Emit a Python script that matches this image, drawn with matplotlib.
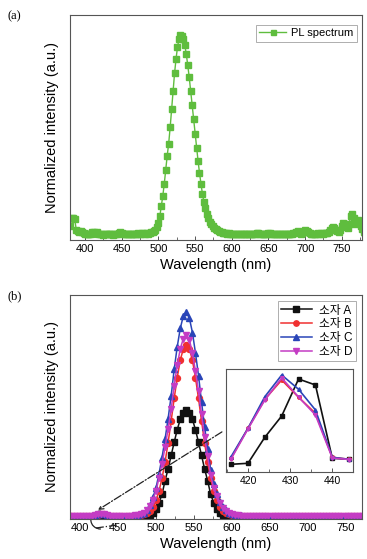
import numpy as np
import matplotlib
matplotlib.use("Agg")
import matplotlib.pyplot as plt
from matplotlib.patches import Arc
from matplotlib.ticker import MultipleLocator

plt.rcParams['font.family'] = ['Liberation Sans', 'Noto Sans CJK KR', 'DejaVu Sans']

# ---------------- (a) PL spectrum ----------------
wl_pl = np.arange(380, 784, 2)
pl_spectrum = [
    0.05, 0.09, 0.09, 0.085, 0.03, 0.025, 0.02, 0.025, 0.022, 0.015,
    0.012, 0.01, 0.012, 0.008, 0.01, 0.018, 0.02, 0.015, 0.018, 0.012,
    0.01, 0.008, 0.006, 0.01, 0.012, 0.009, 0.008, 0.01, 0.008, 0.007,
    0.009, 0.01, 0.012, 0.015, 0.02, 0.017, 0.012, 0.008, 0.009, 0.01,
    0.008, 0.01, 0.009, 0.012, 0.01, 0.012, 0.015, 0.012, 0.01, 0.013,
    0.015, 0.012, 0.014, 0.012, 0.015, 0.018, 0.02, 0.025, 0.03, 0.045,
    0.065, 0.10, 0.15, 0.20, 0.26, 0.33, 0.40, 0.46, 0.54, 0.63,
    0.72, 0.81, 0.88, 0.94, 0.98, 1.0, 0.995, 0.98, 0.95, 0.905,
    0.85, 0.79, 0.72, 0.65, 0.58, 0.51, 0.44, 0.375, 0.315, 0.26,
    0.21, 0.17, 0.14, 0.11, 0.09, 0.07, 0.06, 0.05, 0.04, 0.033,
    0.028, 0.024, 0.02, 0.018, 0.016, 0.015, 0.014, 0.012, 0.013, 0.011,
    0.012, 0.01, 0.011, 0.009, 0.01, 0.012, 0.01, 0.008, 0.01, 0.009,
    0.008, 0.01, 0.009, 0.008, 0.01, 0.011, 0.009, 0.015, 0.013, 0.01,
    0.009, 0.008, 0.01, 0.009, 0.011, 0.013, 0.014, 0.01, 0.009, 0.008,
    0.009, 0.01, 0.008, 0.009, 0.011, 0.01, 0.012, 0.009, 0.01, 0.011,
    0.012, 0.01, 0.013, 0.015, 0.02, 0.025, 0.018, 0.012, 0.015, 0.022,
    0.028, 0.025, 0.02, 0.015, 0.012, 0.01, 0.011, 0.012, 0.01, 0.013,
    0.012, 0.014, 0.012, 0.015, 0.013, 0.016, 0.02, 0.028, 0.04, 0.045,
    0.04, 0.03, 0.025, 0.02, 0.03, 0.05, 0.065, 0.06, 0.045, 0.04,
    0.06, 0.1, 0.11, 0.09, 0.06, 0.07, 0.08, 0.065, 0.05, 0.035,
    0.02, 0.015,
]

# ---------------- (b) devices A-D ----------------
wl_dev = np.arange(380, 784, 4)
base9 = [0.006] * 9                      # 380..412
tail41 = [0.006] * 41                    # 620..780
dev_a = ([0.0] * 25 +
         [0.0, 0.001, 0.004, 0.01, 0.02, 0.04, 0.07, 0.11, 0.177, 0.234,
          0.30, 0.364, 0.426, 0.476, 0.509, 0.52, 0.509, 0.476, 0.426, 0.364,
          0.30, 0.234, 0.177, 0.11, 0.07, 0.04, 0.02, 0.01, 0.004, 0.001,
          0.0, 0.0, 0.0, 0.0, 0.0] + [0.0] * 41)
dev_b = (base9 +
         [0.007, 0.009, 0.011, 0.013, 0.012, 0.01, 0.007, 0.007] +
         [0.006, 0.006, 0.006, 0.006, 0.006, 0.006, 0.007, 0.007] +
         [0.008, 0.012, 0.018, 0.03, 0.05, 0.081, 0.126, 0.188, 0.267, 0.362,
          0.468, 0.578, 0.68, 0.765, 0.82, 0.84, 0.82, 0.765, 0.68, 0.578,
          0.468, 0.362, 0.267, 0.188, 0.126, 0.081, 0.05, 0.03, 0.018, 0.012,
          0.009, 0.008, 0.007, 0.006, 0.006] + tail41)
dev_c = (base9 +
         [0.007, 0.009, 0.012, 0.014, 0.013, 0.011, 0.007, 0.007] +
         [0.006, 0.006, 0.006, 0.006, 0.007, 0.007, 0.008, 0.009] +
         [0.012, 0.02, 0.035, 0.06, 0.095, 0.14, 0.21, 0.29, 0.38, 0.48,
          0.59, 0.72, 0.83, 0.92, 0.98, 1.0, 0.97, 0.90, 0.80, 0.69,
          0.56, 0.44, 0.33, 0.23, 0.16, 0.11, 0.075, 0.05, 0.032, 0.02,
          0.014, 0.011, 0.009, 0.008, 0.007] + tail41)
dev_d = (base9 +
         [0.007, 0.009, 0.012, 0.014, 0.012, 0.011, 0.007, 0.007] +
         [0.006, 0.006, 0.006, 0.006, 0.007, 0.007, 0.008, 0.009] +
         [0.012, 0.02, 0.033, 0.055, 0.085, 0.125, 0.19, 0.26, 0.34, 0.43,
          0.525, 0.64, 0.74, 0.82, 0.87, 0.89, 0.865, 0.80, 0.71, 0.615,
          0.50, 0.39, 0.295, 0.205, 0.14, 0.10, 0.068, 0.045, 0.03, 0.019,
          0.013, 0.01, 0.008, 0.007, 0.007] + tail41)

dev_labels = ['소자 A', '소자 B', '소자 C', '소자 D']

# inset (zoom of the 416-444 nm emission, a.u.)
wl_inset = [416, 420, 424, 428, 432, 436, 440, 444]
inset_a = [0.77, 0.87, 3.47, 5.6, 9.3, 8.7, 1.37, 1.27]
inset_b = [1.37, 4.37, 7.27, 9.2, 7.47, 5.87, 1.47, 1.27]
inset_c = [1.53, 4.37, 7.53, 9.7, 8.27, 6.2, 1.47, 1.27]
inset_d = [1.3, 4.3, 7.2, 9.4, 7.5, 5.7, 1.4, 1.25]

GREEN = '#5fbd3e'
COLORS = ['#111111', '#f03030', '#2a45b8', '#c43cc4']
MARKERS = ['s', 'o', '^', 'v']
SPINE = '#555555'

W, H = 367, 559
fig = plt.figure(figsize=(W / 100, H / 100), dpi=100)

def px_axes(l, t, r, b):
    return fig.add_axes([l / W, (H - b) / H, (r - l) / W, (b - t) / H])

def style(ax):
    for s in ax.spines.values():
        s.set_color(SPINE)
        s.set_linewidth(0.8)
    ax.set_yticks([])
    ax.tick_params(axis='x', direction='in', length=3, width=0.7, color=SPINE,
                   labelsize=8, pad=3)
    ax.tick_params(axis='x', which='minor', direction='in', length=2, width=0.6, color=SPINE)

ax1 = px_axes(70, 15, 362, 240)
ax1.plot(wl_pl, pl_spectrum, '-s', color=GREEN, ms=4.0, lw=1.0, mec=GREEN,
         label='PL spectrum')
ax1.set_xlim(379.5, 777.5)
ax1.set_ylim(-0.02, 1.1)
ax1.xaxis.set_major_locator(MultipleLocator(50))
ax1.xaxis.set_minor_locator(MultipleLocator(25))
style(ax1)
ax1.set_xlabel('Wavelength (nm)', fontsize=10.5, labelpad=3)
ax1.set_ylabel('Normalized intensity (a.u.)', fontsize=10.5, labelpad=8)
leg1 = ax1.legend(loc='upper right', bbox_to_anchor=(0.983, 0.956), borderaxespad=0,
                  fontsize=8, frameon=True, fancybox=False, handlelength=2.4,
                  borderpad=0.3, handletextpad=0.5, markerscale=0.9)
leg1.get_frame().set_edgecolor('#999999')
leg1.get_frame().set_linewidth(0.7)

ax2 = px_axes(70, 295, 362, 519)
for ys, c, m, lab in zip([dev_a, dev_b, dev_c, dev_d], COLORS, MARKERS, dev_labels):
    ax2.plot(wl_dev, ys, '-', marker=m, color=c, mec=c, ms=4.3, lw=1.1, label=lab)
ax2.set_xlim(387, 771)
ax2.set_ylim(-0.01, 1.083)
ax2.xaxis.set_major_locator(MultipleLocator(50))
ax2.xaxis.set_minor_locator(MultipleLocator(25))
style(ax2)
ax2.set_xlabel('Wavelength (nm)', fontsize=10.5, labelpad=3)
ax2.set_ylabel('Normalized intensity (a.u.)', fontsize=10.5, labelpad=8)
leg2 = ax2.legend(loc='upper right', bbox_to_anchor=(0.979, 0.973), borderaxespad=0,
                  fontsize=8.5, frameon=True, fancybox=False, handlelength=2.6,
                  borderpad=0.3, handletextpad=0.6, labelspacing=0.15, markerscale=0.9)
leg2.get_frame().set_edgecolor('#999999')
leg2.get_frame().set_linewidth(0.7)

# zoom indication
ax2.annotate('', xy=(423.7, 0.034), xytext=(586.8, 0.415),
             arrowprops=dict(arrowstyle='->', linestyle='-.', lw=0.9, color='#222222',
                             shrinkA=0, shrinkB=0, mutation_scale=8))
ax2.add_patch(Arc((427.6, -0.015), 26.3, 0.088, theta1=110, theta2=250,
                  color='#222222', lw=0.9, clip_on=False))
ax2.plot([421.0, 450.0], [-0.054, -0.039], linestyle='-.', color='#222222', lw=0.9,
         clip_on=False)

axin = px_axes(226, 369, 353, 472)
for ys, c, m in zip([inset_a, inset_b, inset_c, inset_d], COLORS, MARKERS):
    axin.plot(wl_inset, ys, '-', marker=m, color=c, mec=c, ms=2.6, lw=1.2)
axin.set_xlim(414.8, 444.9)
axin.set_ylim(0, 10.3)
axin.xaxis.set_major_locator(MultipleLocator(10))
axin.xaxis.set_minor_locator(MultipleLocator(5))
style(axin)
axin.tick_params(axis='x', labelsize=7.5)

fig.text(8 / W, 1 - 16 / H, '(a)', fontsize=9, family='Liberation Serif', va='center')
fig.text(8 / W, 1 - 296 / H, '(b)', fontsize=9, family='Liberation Serif', va='center')

fig.savefig('out.png', dpi=100)
